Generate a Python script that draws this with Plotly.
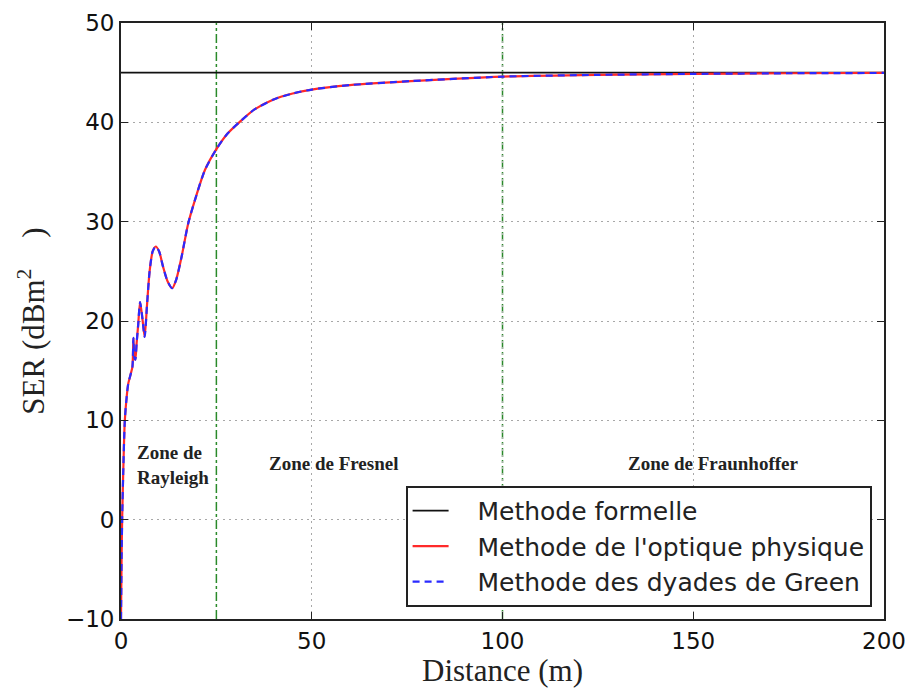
import plotly.graph_objects as go

# Data
distance = [0, 0.15, 0.3, 0.6, 1.0, 1.5, 1.9, 2.5, 3.0, 3.25, 3.5, 3.75, 4.1, 4.5, 5.0,
            5.6, 6.2, 6.8, 7.5, 8.3, 9.1, 10.0, 11.0, 12.2, 13.4, 14.5, 15.9, 17.6,
            19.4, 22.0, 25.0, 28.0, 31.0, 35.0, 40.0, 45.0, 50.0, 60.0, 76.0, 100.0,
            125.0, 150.0, 175.0, 200.0]
ser_po = [-10, -4, 0, 5, 10, 12.4, 13.7, 14.6, 15.4, 18.3, 16.3, 16.1, 17.8, 19.6, 21.9,
          20.3, 18.4, 21.5, 25.0, 27.0, 27.5, 27.0, 25.5, 24.0, 23.3, 24.2, 26.5, 29.8,
          32.2, 35.2, 37.3, 38.9, 40.0, 41.3, 42.3, 42.9, 43.3, 43.75, 44.15, 44.6,
          44.78, 44.88, 44.94, 44.97]
ser_green = ser_po
ser_formal = 45.0
zone_limits = [25, 100]
zone_labels = ["Zone de<br>Rayleigh", "Zone de Fresnel", "Zone de Fraunhoffer"]
zone_label_x = [3.7, 55.6, 155.2]
zone_label_y = [5.5, 5.7, 5.7]
zone_label_anchor = ["left", "center", "center"]
legend_names = ["Methode formelle", "Methode de l'optique physique", "Methode des dyades de Green"]

pad = "&nbsp;&nbsp;&nbsp;"

fig = go.Figure()

fig.add_trace(go.Scatter(
    x=[0, 200], y=[ser_formal, ser_formal], mode="lines",
    line=dict(color="#111", width=1.8), name=pad + legend_names[0]))
fig.add_trace(go.Scatter(
    x=distance, y=ser_po, mode="lines",
    line=dict(color="#ff2a2a", width=2.2, shape="spline", smoothing=0.7),
    name=pad + legend_names[1]))
fig.add_trace(go.Scatter(
    x=distance, y=ser_green, mode="lines",
    line=dict(color="#2a2aff", width=2.2, dash="7px,5px", shape="spline", smoothing=0.7),
    name=pad + legend_names[2]))

for xv in zone_limits:
    fig.add_vline(x=xv, line=dict(color="#2a8a2a", width=1.5, dash="dashdot"), layer="below")

for txt, xv, yv, anc in zip(zone_labels, zone_label_x, zone_label_y, zone_label_anchor):
    fig.add_annotation(x=xv, y=yv, text="<b>" + txt + "</b>", showarrow=False,
                       font=dict(family="Liberation Serif", size=19, color="#222"),
                       align="left", xanchor=anc, yanchor="middle")

axis_common = dict(showline=True, linecolor="#222", linewidth=1.8, mirror="ticks",
                   ticks="inside", ticklen=7, tickcolor="#222", automargin=False,
                   showgrid=True, gridcolor="#a8a8a8", griddash="2px,4px", gridwidth=1,
                   zeroline=False,
                   tickfont=dict(family="DejaVu Sans", size=23, color="#111"))

fig.update_xaxes(range=[0, 200], dtick=50, tick0=0,
                 title=dict(text="Distance (m)", font=dict(family="Liberation Serif", size=31, color="#222"),
                            standoff=6),
                 **axis_common)
fig.update_yaxes(range=[-10, 50], dtick=10, tick0=-10,
                 title=dict(text="SER&nbsp;(dBm<sup>2</sup>&nbsp;&nbsp;&nbsp;&nbsp;)",
                            font=dict(family="Liberation Serif", size=31, color="#222"),
                            standoff=12),
                 **axis_common)

fig.update_layout(
    width=909, height=691,
    margin=dict(l=121, r=25, t=23, b=72, autoexpand=False),
    paper_bgcolor="white", plot_bgcolor="white",
    legend=dict(x=0.984, y=0.02, xanchor="right", yanchor="bottom",
                bgcolor="white", bordercolor="#222", borderwidth=1.8,
                font=dict(family="DejaVu Sans", size=25, color="#222"),
                itemwidth=36, tracegroupgap=0),
    showlegend=True,
)

fig.write_html("out.html", config={"displayModeBar": False},
               post_script="document.body.style.margin='0';document.body.style.overflow='hidden';")
